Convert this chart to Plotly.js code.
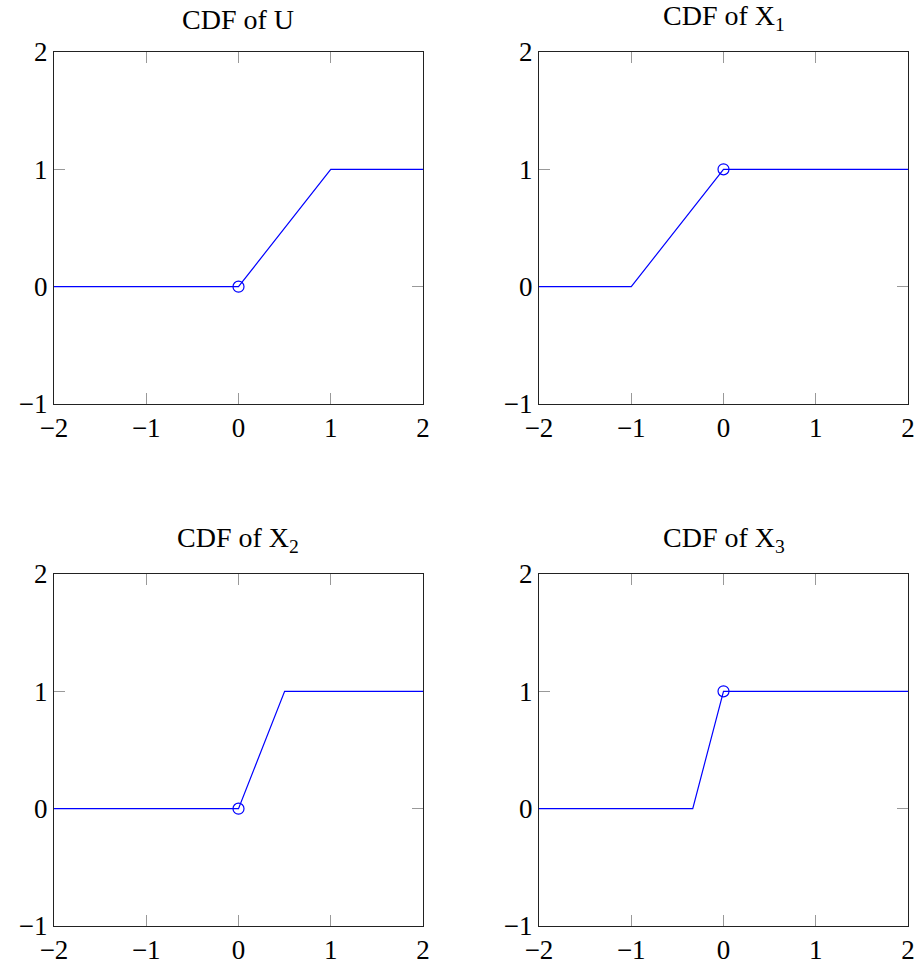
<!DOCTYPE html>
<html>
<head>
<meta charset="utf-8">
<script src="https://cdn.plot.ly/plotly-3.0.1.min.js"></script>
<style>html,body{margin:0;padding:0;background:#fff;}#chart{width:917px;height:964px;}</style>
</head>
<body>
<div id="chart"></div>
<script>
// Data
const titles = ["CDF of U", "CDF of X<sub>1</sub>", "CDF of X<sub>2</sub>", "CDF of X<sub>3</sub>"];
const xU  = [-2, 0, 1, 2];
const yU  = [0, 0, 1, 1];
const xX1 = [-2, -1, 0, 2];
const yX1 = [0, 0, 1, 1];
const xX2 = [-2, 0, 0.5, 2];
const yX2 = [0, 0, 1, 1];
const xX3 = [-2, -1/3, 0, 2];
const yX3 = [0, 0, 1, 1];
const circleX = [0, 0, 0, 0];
const circleY = [0, 1, 0, 1];
const xTicks = [-2, -1, 0, 1, 2];
const yTicks = [-1, 0, 1, 2];
const tickText = v => (v < 0 ? "\u2212" + Math.abs(v) : String(v));

const series = [[xU, yU], [xX1, yX1], [xX2, yX2], [xX3, yX3]];
const blue = "#0000ff";
const FONT = "'Liberation Serif', 'Times New Roman', serif";

const traces = [];
series.forEach((s, i) => {
  const xa = i === 0 ? "x" : "x" + (i + 1);
  const ya = i === 0 ? "y" : "y" + (i + 1);
  traces.push({x: s[0], y: s[1], mode: "lines", line: {color: blue, width: 1.2},
    xaxis: xa, yaxis: ya, hoverinfo: "skip", showlegend: false});
  traces.push({x: [circleX[i]], y: [circleY[i]], mode: "markers",
    marker: {symbol: "circle-open", size: 11, color: blue, line: {color: blue, width: 1.2}},
    xaxis: xa, yaxis: ya, hoverinfo: "skip", showlegend: false});
});

const W = 917, H = 964;
const xDom = [[54 / W, 423 / W], [539 / W, 908 / W]];
const yDom = [[1 - 404 / H, 1 - 52 / H], [1 - 926 / H, 1 - 574 / H]];

function axisBase(vals) {
  return {
    range: [vals[0], vals[vals.length - 1]],
    tickvals: vals, ticktext: vals.map(tickText),
    ticks: "inside", ticklen: 11, tickwidth: 1, tickcolor: "#999",
    showline: true, linecolor: "#222", linewidth: 1, mirror: "ticks",
    showgrid: false, zeroline: false, fixedrange: true, layer: "below traces",
    tickfont: {family: FONT, size: 27, color: "#000"}
  };
}

const layout = {
  width: W, height: H, margin: {l: 0, r: 0, t: 0, b: 0},
  paper_bgcolor: "#fff", plot_bgcolor: "#fff", showlegend: false,
  annotations: []
};
for (let i = 0; i < 4; i++) {
  const col = i % 2, row = Math.floor(i / 2);
  const sx = i === 0 ? "" : String(i + 1);
  layout["xaxis" + sx] = Object.assign(axisBase(xTicks), {domain: xDom[col], anchor: "y" + sx});
  layout["yaxis" + sx] = Object.assign(axisBase(yTicks), {domain: yDom[row], anchor: "x" + sx});
  layout.annotations.push({
    text: titles[i], xref: "paper", yref: "paper",
    x: (xDom[col][0] + xDom[col][1]) / 2, y: yDom[row][1],
    xanchor: "center", yanchor: "bottom", yshift: 15, showarrow: false,
    font: {family: FONT, size: 28, color: "#000"}
  });
}

Plotly.newPlot("chart", traces, layout, {staticPlot: true});
</script>
</body>
</html>
